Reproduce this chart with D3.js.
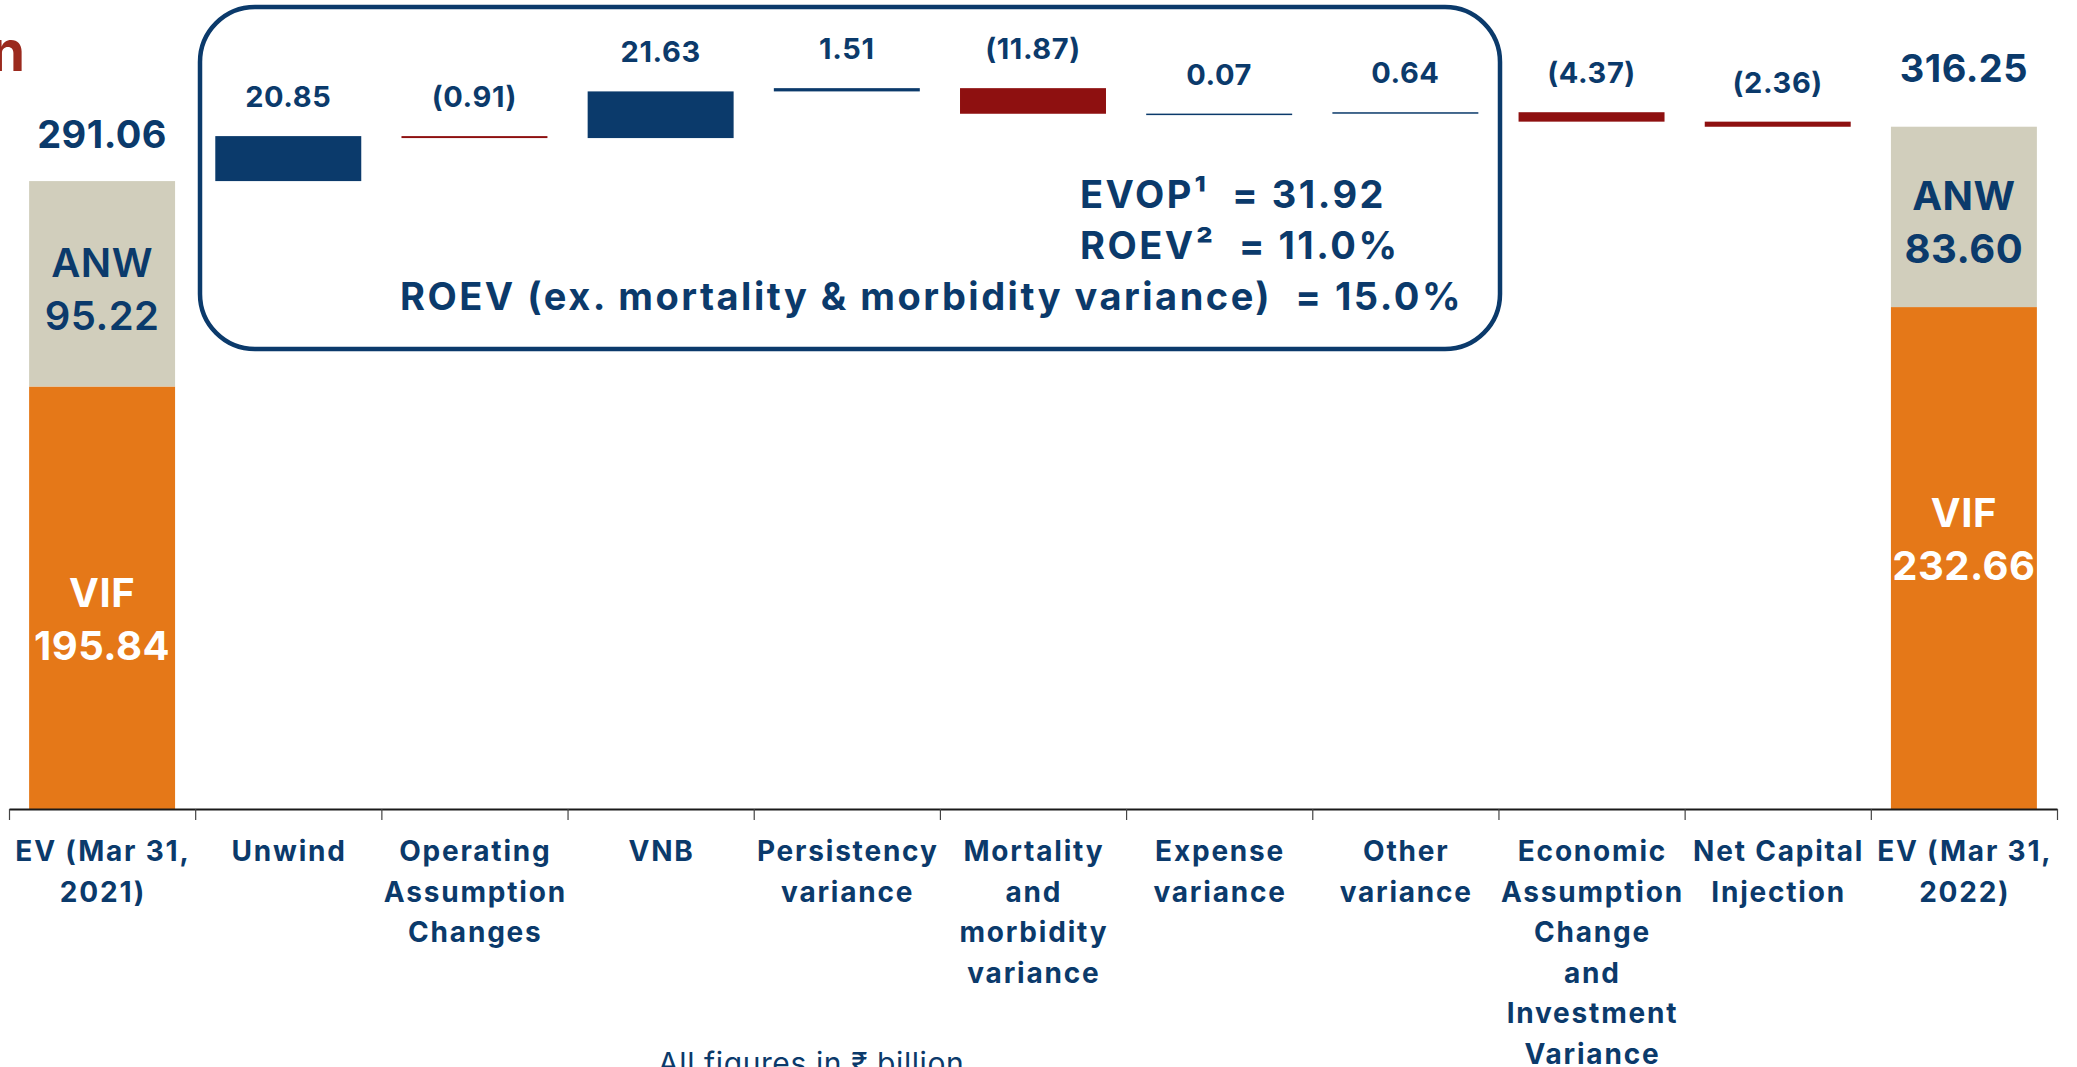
<!DOCTYPE html>
<html>
<head>
<meta charset="utf-8">
<script src="https://cdn.jsdelivr.net/npm/d3@7"></script>
<style>
  html, body { margin: 0; padding: 0; background: #ffffff; }
  svg { display: block; }
  text { font-family: Inter, "Open Sans", sans-serif; white-space: pre; }
</style>
</head>
<body>
<svg id="chart" width="2077" height="1067"></svg>
<script>
// Embedded value movement, Mar 31 2021 -> Mar 31 2022 (₹ billion)
const categories = [
  "EV (Mar 31,\n2021)", "Unwind", "Operating\nAssumption\nChanges", "VNB",
  "Persistency\nvariance", "Mortality\nand\nmorbidity\nvariance", "Expense\nvariance",
  "Other\nvariance", "Economic\nAssumption\nChange\nand\nInvestment\nVariance",
  "Net Capital\nInjection", "EV (Mar 31,\n2022)"
];
// opening and closing EV split into adjusted net worth and value in force
const endTotals = [291.06, 316.25];
const endANW = [95.22, 83.60];
const endVIF = [195.84, 232.66];
// movements between the two EV figures, in category order
const movements = [20.85, -0.91, 21.63, 1.51, -11.87, 0.07, 0.64, -4.37, -2.36];
const summaryLines = [
  "EVOP¹  = 31.92",
  "ROEV²  = 11.0%",
  "ROEV (ex. mortality & morbidity variance)  = 15.0%"
];
const footnote = "All figures in ₹ billion";

const NAVY = "#0b3a6b", RED = "#8e1010", ORANGE = "#e57818", BEIGE = "#d1cebc";

const svg = d3.select("#chart");
const baseY = 809;
const x = d3.scaleBand().domain(categories).range([9, 2057]).padding(0);
const y = d3.scaleLinear().domain([0, 375]).range([baseY, 0]);
const barW = x.bandwidth() * 0.784;
const barX = c => x(c) + (x.bandwidth() - barW) / 2;
const cx = c => x(c) + x.bandwidth() / 2;

// title fragment at the top-left edge
svg.append("text").attr("x", 25).attr("y", 71).attr("text-anchor", "end")
  .attr("font-size", 56).attr("font-weight", 700).attr("fill", "#9b2a1e").text("n");

// summary box
svg.append("rect").attr("x", 200).attr("y", 7).attr("width", 1300).attr("height", 342)
  .attr("rx", 55).attr("ry", 55).attr("fill", "none").attr("stroke", NAVY).attr("stroke-width", 4.5);

// waterfall steps
let level = endTotals[0];
const steps = movements.map((v, i) => {
  const s = { cat: categories[i + 1], v, from: level, to: level + v };
  level += v;
  return s;
});

svg.append("g").selectAll("rect").data(steps).join("rect")
  .attr("x", d => barX(d.cat))
  .attr("width", barW)
  .attr("y", d => y(Math.max(d.from, d.to)))
  .attr("height", d => Math.max(1.5, Math.abs(y(d.from) - y(d.to))))
  .attr("fill", d => d.v >= 0 ? NAVY : RED);

const fmt = v => v < 0 ? `(${Math.abs(v).toFixed(2)})` : v.toFixed(2);
svg.append("g").selectAll("text").data(steps).join("text")
  .attr("x", d => cx(d.cat))
  .attr("y", d => y(Math.max(d.from, d.to)) - 29)
  .attr("text-anchor", "middle").attr("font-size", 29).attr("font-weight", 700)
  .attr("letter-spacing", 0.6)
  .attr("fill", NAVY).text(d => fmt(d.v));

// opening and closing stacked bars
const ends = [0, 1].map(i => ({
  cat: categories[i === 0 ? 0 : categories.length - 1],
  total: endTotals[i], anw: endANW[i], vif: endVIF[i]
}));
const endG = svg.append("g");
ends.forEach((d, i) => {
  endG.append("rect").attr("x", barX(d.cat)).attr("width", barW)
    .attr("y", y(d.vif)).attr("height", y(0) - y(d.vif)).attr("fill", ORANGE);
  endG.append("rect").attr("x", barX(d.cat)).attr("width", barW)
    .attr("y", y(d.vif + d.anw)).attr("height", y(d.vif) - y(d.vif + d.anw)).attr("fill", BEIGE);
  const twoLines = (firstBaseline, lines, color, weight) => {
    lines.forEach((t, k) => {
      endG.append("text").attr("x", cx(d.cat)).attr("y", firstBaseline + k * 53)
        .attr("text-anchor", "middle").attr("font-size", 40).attr("font-weight", weight)
        .attr("letter-spacing", 0.5).attr("fill", color).text(t);
    });
  };
  // ANW label centred in its segment, VIF label hung from the top of its segment
  const anwMid = (y(d.vif) + y(d.vif + d.anw)) / 2;
  twoLines(anwMid - 26.5 + 15 + 5, ["ANW", d.anw.toFixed(2)], NAVY, i === 0 ? 600 : 700);
  twoLines(y(d.vif) + 220, ["VIF", d.vif.toFixed(2)], "#ffffff", 700);
  endG.append("text").attr("x", cx(d.cat))
    .attr("y", y(d.total) - (i === 0 ? 33 : 45))
    .attr("text-anchor", "middle").attr("font-size", 38).attr("font-weight", 700)
    .attr("letter-spacing", 0.5)
    .attr("fill", NAVY).text(d.total.toFixed(2));
});

// category axis with ticks on band boundaries
const edges = d3.scaleLinear().domain([0, categories.length]).range(x.range());
const axis = svg.append("g").attr("transform", `translate(0,${baseY})`)
  .call(d3.axisBottom(edges).tickValues(d3.range(categories.length + 1))
    .tickFormat("").tickSize(11).tickSizeOuter(0));
axis.select(".domain").attr("stroke", "#1a1a1a").attr("stroke-width", 1.8);
axis.selectAll(".tick line").attr("stroke", "#444").attr("stroke-width", 1.2);

const labels = svg.append("g").selectAll("text").data(categories).join("text")
  .attr("x", d => cx(d)).attr("y", 861)
  .attr("text-anchor", "middle").attr("font-size", 28).attr("font-weight", 700)
  .attr("letter-spacing", 1.8).attr("fill", NAVY);
labels.each(function (d) {
  const t = d3.select(this);
  d.split("\n").forEach((line, k) => {
    t.append("tspan").attr("x", cx(d) + 0.9).attr("dy", k === 0 ? 0 : 40.5).text(line);
  });
});

// summary figures
const sumPos = [[1080, 208], [1080, 259], [400, 310]];
svg.append("g").selectAll("text").data(summaryLines).join("text")
  .attr("x", (d, i) => sumPos[i][0]).attr("y", (d, i) => sumPos[i][1])
  .attr("font-size", 38).attr("font-weight", 700).attr("letter-spacing", 2.5)
  .attr("fill", NAVY).text(d => d);

svg.append("text").attr("x", 658).attr("y", 1074).attr("font-size", 30)
  .attr("font-weight", 400).attr("letter-spacing", 0.6).attr("fill", NAVY).text(footnote);
</script>
</body>
</html>
